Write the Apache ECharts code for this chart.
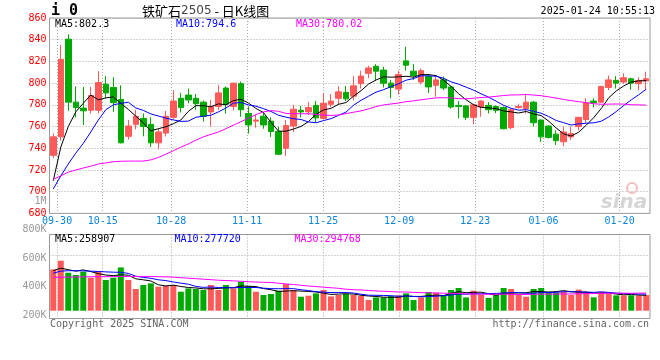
<!DOCTYPE html>
<html><head><meta charset="utf-8">
<script src="https://cdn.jsdelivr.net/npm/echarts@6/dist/echarts.min.js"></script>
<style>html,body{margin:0;padding:0;background:#fff}#c{width:660px;height:360px}</style>
</head><body><div id="c"></div>
<script>
// ---------- data ----------
const categories = ['09-27','09-30','10-08','10-09','10-10','10-11','10-14','10-15','10-16','10-17','10-18','10-21','10-22','10-23','10-24','10-25','10-28','10-29','10-30','10-31','11-01','11-04','11-05','11-06','11-07','11-08','11-11','11-12','11-13','11-14','11-15','11-18','11-19','11-20','11-21','11-22','11-25','11-26','11-27','11-28','11-29','12-02','12-03','12-04','12-05','12-06','12-09','12-10','12-11','12-12','12-13','12-16','12-17','12-18','12-19','12-20','12-23','12-24','12-25','12-26','12-27','12-30','12-31','01-02','01-03','01-06','01-07','01-08','01-09','01-10','01-13','01-14','01-15','01-16','01-17','01-20','01-21','01-22','01-23','01-24'];
const openPrices  = [733.5,750.5,840.5,782.5,777,775,775,799,796,785, 751,762,767.5,762,745,754,768.5,786,789,786, 782.5,773.5,778.5,795.5,778.5,799.5,772,765,769.5,765, 755.5,740,760.5,775,773.5,779.5,767.5,780.5,786,791.5, 788,799.5,809,815.5,812,800,794.5,820.5,811,801, 806,798,803,796.5,779.5,779,768.5,778,779.5,778.5, 777.5,759,777.5,776.5,782.5,766,760.5,753,746,750.5, 760,766.5,783.5,782.5,796,802.5,801,804,799.5,802];
const closePrices = [750.5,822,782.5,777.5,774.5,788.5,800.5,791,782,745, 760.5,769.5,760,745,755,769.5,783.5,777.5,784.5,781, 769.5,778.5,791,780.5,800,775.5,761.5,766,761.5,755.5, 734.5,761,776,773.5,777.5,768,781.5,783.5,792,785.5, 797.5,806.5,814,811,800,796,808,816.5,807,811.5, 796.5,803,795.5,778,778.5,768.5,780,783.5,775.5,775, 758,775.5,778.5,782.5,763.5,750.5,750,747,755,753.5, 768.5,782,782,797,803,800,805,800,802.5,804];
const lowPrices   = [731,747,774.5,768.5,761.5,772,772,786,773.5,744.5, 748,757.5,751,741,739,751,766.5,773,781.5,775.5, 764.5,760,775.5,772,775,769,753.5,759,758,750.5, 734,733,755,768.5,770.5,764,766.5,778,780,783.5, 784,795,804.5,802,796,786,789.5,811.5,803,799, 791,787.5,793.5,776.5,767.5,766,762,769,772,772.5, 757.5,757.5,776.5,772,760,746,749,743,742,747.5, 756.5,763.5,777.5,782,793.5,795,799.5,794,793.5,793.5];
const highPrices  = [753.5,835,845,797,796.5,796.5,811,806.5,805.5,798, 766,775.5,772,768.5,758,774.5,793.5,791,795,790, 784,784.5,798,797,800.5,801.5,778.5,771,773,768.5, 760,766,780,779,782.5,783.5,790.5,790,797,797.5, 806.5,811.5,816,817.5,815,803,811.5,833.5,817.5,813.5, 808,806,806,797,783.5,780,781,784,782.5,779.5, 778.5,776.5,781,789,783.5,766.5,761,756.5,760,760, 769,786,786,797.5,807,806.5,809,805,805.5,810.5];
const volumes = [694000,840000,638000,600000,655000,554000,667000,516000,554000,727000,
  516000,365000,432000,459000,403000,420000,432000,319000,375000,365000,
  348000,432000,348000,432000,375000,487000,415000,319000,264000,281000,
  336000,449000,348000,235000,252000,291000,348000,240000,264000,281000,
  264000,247000,180000,223000,223000,247000,257000,291000,180000,223000,
  314000,302000,257000,348000,381000,223000,336000,269000,213000,264000,
  381000,365000,264000,235000,365000,381000,319000,302000,319000,264000,
  355000,318000,225000,316000,281000,257000,257000,260000,257000,263000];
const ma5Head  = [710,741,760,773.5];
const ma10Head = [702.5,714.5,725.5,735.5,744.5,755,766,775.5,780];
const ma30Head = [711.5,714.5,718,720,721.8,723.5,725.5,726.5,727.6,728,728.2,728.2,728.2,729.3,731.5,734.5,737.7,741,744,747.5,750.5,752.8,755,758,761.3,764.5,767.7,771,773.5];
const volMa5Head  = [672000,714000,689000,664000];
const volMa10Head = [630000,664000,672000,672000,669000,664000,659000,652000,647000];
const volMa30Head = [559000,563000,564000,566000,568000,570000,571000,571000,573000,575000,576000,576000,576000,575000,571000,568000,563000,554000,546000,538000,529000,521000,512000,507000,501000,494000,487000,482000,477000];
const dateTicks = ['09-30','10-15','10-28','11-11','11-25','12-09','12-23','01-06','01-20'];
const priceMin = 680, priceMax = 860, priceStep = 20;
const volTickLabels = [200000,400000,600000,800000,1000000];
const priceLegend = ['MA5:802.3','MA10:794.6','MA30:780.02'];
const volLegend = ['MA5:258907','MA10:277720','MA30:294768'];

// ---------- helpers ----------
function movingAverage(values, n, head) {
  return values.map((v, i) => {
    if (i < n - 1) return head[i];
    let s = 0; for (let k = i - n + 1; k <= i; k++) s += values[k];
    return +(s / n).toFixed(2);
  });
}
const RED = '#ff5a5a', GREEN = '#00aa00', BLUE = '#0000ff', MAG = '#ff00ff';
const MONO = 'DejaVu Sans Mono';
const dotted = { color: '#a8a8a8', width: 1, type: [1, 2] };
const candleData = categories.map((d, i) => [openPrices[i], closePrices[i], lowPrices[i], highPrices[i]]);
const dateTickIdx = dateTicks.map(d => categories.indexOf(d));
const lastIdx = categories.length - 1;
const L = 49.5, R = 10;

function lineSeries(data, color, xi, yi) {
  return { type: 'line', data, xAxisIndex: xi, yAxisIndex: yi, showSymbol: false, symbol: 'none',
    lineStyle: { color, width: 1 }, silent: true, z: 3 };
}
function txt(x, y, text, fill, align) {
  return { type: 'text', x, y, z: 10, style: { text, fill, font: '10px "' + MONO + '"',
    textAlign: align || 'left', textVerticalAlign: 'middle' } };
}

const chart = echarts.init(document.getElementById('c'), null, { renderer: 'canvas' });
chart.setOption({
  animation: false,
  backgroundColor: '#fff',
  grid: [
    { left: L, right: R, top: 18, height: 195.4, show: true, borderColor: '#999', borderWidth: 1 },
    { left: L, right: R, top: 234.5, height: 84, show: true, borderColor: '#999', borderWidth: 1 },
    { left: L, right: R, top: 201, height: 114, show: false }
  ],
  xAxis: [
    { type: 'category', gridIndex: 0, data: categories, boundaryGap: true, show: false },
    { type: 'value', gridIndex: 0, min: 0, max: lastIdx, position: 'bottom',
      axisLine: { show: false, onZero: false },
      axisTick: { show: false, customValues: dateTickIdx },
      axisLabel: { customValues: dateTickIdx, formatter: v => categories[Math.round(v)],
        color: '#0d84dc', fontFamily: MONO, fontSize: 10, margin: 3 },
      splitLine: { show: true, lineStyle: dotted } },
    { type: 'category', gridIndex: 1, data: categories, boundaryGap: true, show: false },
    { type: 'value', gridIndex: 1, min: 0, max: lastIdx, position: 'bottom',
      axisLine: { show: false, onZero: false },
      axisTick: { show: false, customValues: dateTickIdx },
      axisLabel: { show: false },
      splitLine: { show: true, lineStyle: dotted } },
    { type: 'value', gridIndex: 2, show: false, min: 0, max: 1 }
  ],
  yAxis: [
    { type: 'value', gridIndex: 0, min: priceMin, max: priceMax, interval: priceStep,
      axisLine: { show: false }, axisTick: { show: false },
      axisLabel: { color: '#ff0000', fontFamily: MONO, fontSize: 10, margin: 3, padding: [0, 0, 3, 0] },
      splitLine: { show: true, lineStyle: dotted } },
    { type: 'value', gridIndex: 1, min: -131000, max: 1280000, show: false },
    { type: 'value', gridIndex: 1, min: 0, max: 4,
      axisLine: { show: false }, axisTick: { show: false, customValues: [2, 3] },
      axisLabel: { show: false }, splitLine: { show: true, lineStyle: dotted } },
    { type: 'value', gridIndex: 2, min: volTickLabels[0], max: volTickLabels[volTickLabels.length - 1],
      interval: volTickLabels[1] - volTickLabels[0],
      axisLine: { show: false }, axisTick: { show: false }, splitLine: { show: false },
      axisLabel: { color: '#999', fontFamily: MONO, fontSize: 10, margin: 3,
        formatter: v => v >= 1e6 ? (v / 1e6) + 'M' : (v / 1000) + 'K' } }
  ],
  series: [
    { type: 'candlestick', xAxisIndex: 0, yAxisIndex: 0, data: candleData, barWidth: 6,
      itemStyle: { color: RED, color0: GREEN, borderColor: RED, borderColor0: GREEN, borderWidth: 1 } },
    lineSeries(movingAverage(closePrices, 5, ma5Head), '#000', 0, 0),
    lineSeries(movingAverage(closePrices, 10, ma10Head), BLUE, 0, 0),
    lineSeries(movingAverage(closePrices, 30, ma30Head), MAG, 0, 0),
    { type: 'bar', xAxisIndex: 2, yAxisIndex: 1, data: volumes, barWidth: 6,
      itemStyle: { color: p => closePrices[p.dataIndex] >= openPrices[p.dataIndex] ? RED : GREEN } },
    lineSeries(movingAverage(volumes, 5, volMa5Head), '#000', 2, 1),
    lineSeries(movingAverage(volumes, 10, volMa10Head), BLUE, 2, 1),
    lineSeries(movingAverage(volumes, 30, volMa30Head), MAG, 2, 1)
  ],
  graphic: [
    { type: 'text', x: 51, y: 11, z: 10, style: { text: 'i 0', fill: '#000',
      font: 'bold 15px "' + MONO + '"', textAlign: 'left', textVerticalAlign: 'middle' } },
    { type: 'text', x: 142, y: 11, z: 10, style: {
      text: '{a|铁矿石}{b|2505}{a| - 日K线图}', textAlign: 'left', textVerticalAlign: 'middle',
      rich: { a: { fill: '#000', font: '13px "Noto Sans CJK SC"' },
              b: { fill: '#444', font: '12px "DejaVu Sans"' } } } },
    txt(655, 11, '2025-01-24 10:55:13', '#000', 'right'),
    txt(55, 24, priceLegend[0], '#000'),
    txt(176, 24, priceLegend[1], BLUE),
    txt(296, 24, priceLegend[2], MAG),
    txt(55, 239, volLegend[0], '#000'),
    txt(174.5, 239, volLegend[1], BLUE),
    txt(294.5, 239, volLegend[2], MAG),
    txt(50, 324, 'Copyright 2025 SINA.COM', '#666'),
    txt(649, 324, 'http://finance.sina.com.cn', '#666', 'right'),
    { type: 'circle', shape: { cx: 632, cy: 188, r: 5 }, z: 1, style: { fill: 'none', stroke: '#f2c0c0', lineWidth: 2 } },
    { type: 'text', x: 624, y: 203, z: 1, style: { text: 'sina', fill: '#d6d6d6',
      font: 'italic bold 20px "DejaVu Sans"', textAlign: 'center', textVerticalAlign: 'middle' } }
  ]
});
</script></body></html>
